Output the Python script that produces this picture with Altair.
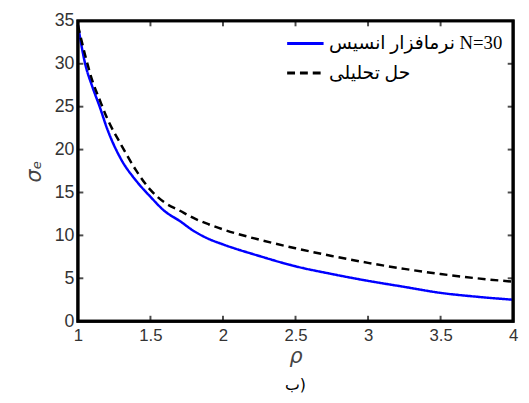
import altair as alt
import pandas as pd

rho = [1.0, 1.05, 1.1, 1.15, 1.2, 1.3, 1.4, 1.5, 1.6, 1.7, 1.8, 1.9, 2.0,
       2.25, 2.5, 2.75, 3.0, 3.25, 3.5, 3.75, 4.0]
ansys = [34.5, 30.0, 27.3, 25.0, 22.5, 18.8, 16.4, 14.5, 12.8, 11.7, 10.5, 9.6, 8.95,
         7.6, 6.4, 5.5, 4.7, 4.0, 3.3, 2.85, 2.5]
analytic = [34.5, 31.0, 28.0, 25.8, 23.7, 20.5, 17.6, 15.3, 13.8, 12.9, 12.0, 11.3, 10.7,
            9.5, 8.5, 7.6, 6.8, 6.1, 5.5, 5.0, 4.6]

series_names = ["نرمافزار انسیس N=30", "حل تحلیلی"]
x_ticks = [1, 1.5, 2, 2.5, 3, 3.5, 4]
y_ticks = [0, 5, 10, 15, 20, 25, 30, 35]

rows = []
for r, a, b in zip(rho, ansys, analytic):
    rows.append({"rho": r, "sigma": a, "series": series_names[0]})
    rows.append({"rho": r, "sigma": b, "series": series_names[1]})
df = pd.DataFrame(rows)
xt = pd.DataFrame({"rho": x_ticks[1:-1]})
yt = pd.DataFrame({"sigma": y_ticks[1:-1]})
frame_df = pd.DataFrame({"k": [0]})

W, H = 442, 305
LABEL_FONT = "Liberation Sans"
LABEL_COLOR = "#333333"

xscale = alt.Scale(domain=[1, 4], nice=False, zero=False)
yscale = alt.Scale(domain=[0, 35], nice=False)

x_axis = alt.Axis(orient="bottom", values=x_ticks, format="~g",
                  labelFont=LABEL_FONT,
                  labelFontSize=17, labelColor=LABEL_COLOR, labelPadding=7,
                  ticks=False, grid=False, labelFlush=False,
                  domain=False,
                  title="ρ", titleFont="DejaVu Sans", titleFontStyle="italic",
                  titleFontWeight="normal", titleFontSize=21, titleColor="#444444",
                  titlePadding=2)
y_axis = alt.Axis(orient="left", values=y_ticks, labelFont=LABEL_FONT,
                  labelFontSize=18, labelColor=LABEL_COLOR, labelPadding=4,
                  ticks=False, grid=False, labelFlush=False,
                  domain=False,
                  title="σₑ", titleFont="DejaVu Sans", titleFontStyle="italic",
                  titleFontWeight="normal", titleFontSize=21, titleColor="#444444",
                  titlePadding=10)

legend_kw = dict(
    title=None, orient="none", legendX=211, legendY=3,
    symbolType="stroke", symbolSize=1369, symbolStrokeWidth=3,
    labelFont="Liberation Serif, DejaVu Sans", labelFontSize=19, labelLimit=300,
    labelColor="#000000", labelOffset=4, rowPadding=-14, padding=0,
)

color = alt.Color(
    "series:N",
    scale=alt.Scale(domain=series_names, range=["#0000FF", "#000000"]),
    sort=series_names,
    legend=alt.Legend(**legend_kw),
)
dash = alt.StrokeDash(
    "series:N",
    scale=alt.Scale(domain=series_names, range=[[1, 0], [8, 5]]),
    sort=series_names,
    legend=alt.Legend(**legend_kw),
)

main = alt.Chart(df).mark_line(strokeWidth=2.5, interpolate="monotone").encode(
    x=alt.X("rho:Q", scale=xscale, axis=x_axis),
    y=alt.Y("sigma:Q", scale=yscale, axis=y_axis),
    color=color,
    strokeDash=dash,
    detail="series:N",
)

tick_style = dict(color="#000000", thickness=2, size=5)
tick_bottom = alt.Chart(xt).mark_tick(orient="vertical", **tick_style).encode(
    x=alt.X("rho:Q", scale=xscale, axis=x_axis), y=alt.value(H - 3))
tick_top = alt.Chart(xt).mark_tick(orient="vertical", **tick_style).encode(
    x=alt.X("rho:Q", scale=xscale, axis=x_axis), y=alt.value(3))
tick_left = alt.Chart(yt).mark_tick(orient="horizontal", **tick_style).encode(
    y=alt.Y("sigma:Q", scale=yscale, axis=y_axis), x=alt.value(3))
tick_right = alt.Chart(yt).mark_tick(orient="horizontal", **tick_style).encode(
    y=alt.Y("sigma:Q", scale=yscale, axis=y_axis), x=alt.value(W - 3))

frame = alt.Chart(frame_df).mark_rect(filled=False, stroke="#000000", strokeWidth=3).encode(
    x=alt.value(0), x2=alt.value(W), y=alt.value(0), y2=alt.value(H))

chart = alt.layer(main, tick_bottom, tick_top, tick_left, tick_right, frame).properties(
    width=W, height=H,
    autosize=alt.AutoSizeParams(type="none"),
    padding={"left": 71, "top": 10, "right": 8, "bottom": 80},
    title=alt.TitleParams(text="ب)", orient="bottom", font="DejaVu Sans",
                          fontSize=16, fontWeight="normal", color="#000000", offset=11),
).configure_view(
    stroke="#000000", strokeWidth=3
)

chart.save("out.html", embed_options={"renderer": "svg", "actions": False})
